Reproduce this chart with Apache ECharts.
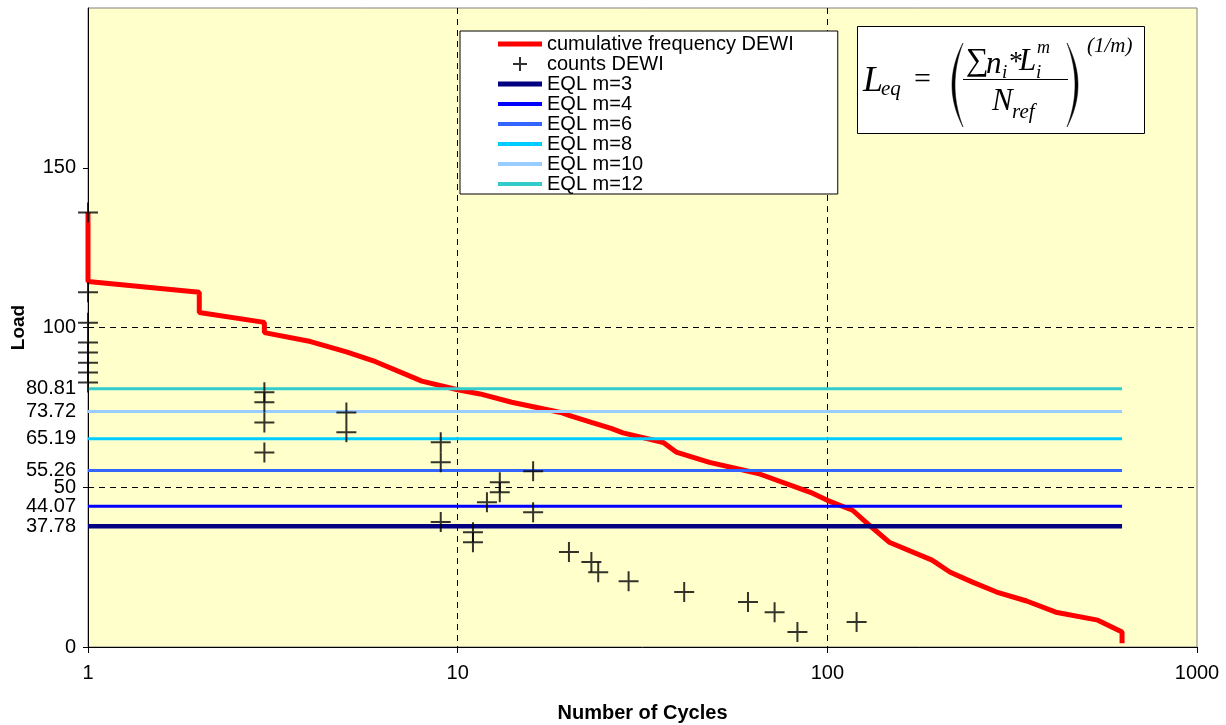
<!DOCTYPE html>
<html>
<head>
<meta charset="utf-8">
<script src="https://cdn.jsdelivr.net/npm/echarts@6/dist/echarts.min.js"></script>
<style>
  html, body { margin: 0; padding: 0; background: #fff; }
  #chart { width: 1226px; height: 725px; }
</style>
</head>
<body>
<div id="chart"></div>
<script>
// cumulative frequency curve (cycles, load)
const cumCycles = [1, 1, 2, 2, 3, 3, 4, 5, 6, 8, 10, 11.5, 14, 19, 20, 23, 26, 28, 36, 39, 48, 65, 90, 100, 117, 130, 147, 192, 215, 247, 287, 346, 415, 539, 627, 627]
const cumLoad = [136, 114.4, 111, 104.7, 101.6, 98.4, 95.6, 92.4, 89.3, 83.2, 80.5, 79.2, 76.6, 73.4, 72.5, 70.3, 68.4, 67, 64, 61, 57.8, 54.3, 48.4, 45.9, 42.8, 38.1, 32.8, 27.2, 23.4, 20.3, 17.2, 14.4, 10.9, 8.4, 4.7, 1.2]

// single counts (cycles, load)
const countCycles = [1, 1, 1, 1, 1, 1, 1, 1, 3, 3, 3, 3, 5, 5, 9, 9, 9, 11, 11, 12, 13, 13, 16, 16, 20, 23, 24, 29, 41, 61, 72, 83, 120]
const countLoad = [136, 111, 101.5, 95.3, 92.2, 89, 85.9, 82.8, 79.7, 76.6, 70.3, 60.9, 73.4, 67.2, 64.1, 57.8, 39.1, 35.9, 32.8, 45.3, 51.6, 48.4, 55, 42.2, 29.7, 26.6, 23.4, 20.6, 17.2, 14.1, 10.9, 4.7, 7.8]

// equivalent loads
const eqlNames = ['EQL m=3', 'EQL m=4', 'EQL m=6', 'EQL m=8', 'EQL m=10', 'EQL m=12']
const eqlValues = [37.78, 44.07, 55.26, 65.19, 73.72, 80.81]
const eqlStart = 1
const eqlEnd = 627

const yLabelValues = [0, 37.78, 44.07, 50, 55.26, 65.19, 73.72, 80.81, 100, 150]
const yTickValues = [0, 50, 100, 150]

const eqlColors = ['#000080', '#0000FF', '#3366FF', '#00CCFF', '#99CCFF', '#33CCCC']
const eqlWidths = [4.5, 3, 3, 3, 3, 3]

const chart = echarts.init(document.getElementById('chart'))

const plusPath = 'path://M10,0L10,20M0,10L20,10'
const thickIcon = 'path://M0,0L44,0L44,5L0,5Z'
const thinIcon = 'path://M0,0L44,0L44,4L0,4Z'

const series = []
series.push({
  name: 'cumulative frequency DEWI',
  type: 'line',
  data: cumCycles.map((c, i) => [c, cumLoad[i]]),
  symbol: 'none',
  lineStyle: {color: '#FF0000', width: 5},
  itemStyle: {color: '#FF0000'},
  z: 2
})
series.push({
  name: 'counts DEWI',
  type: 'scatter',
  data: countCycles.map((c, i) => [c, countLoad[i]]),
  symbol: plusPath,
  symbolSize: 20,
  itemStyle: {color: 'none', borderColor: '#000', borderWidth: 2},
  z: 5
})
eqlNames.forEach((name, i) => {
  series.push({
    name,
    type: 'line',
    data: [[eqlStart, eqlValues[i]], [eqlEnd, eqlValues[i]]],
    symbol: 'none',
    lineStyle: {color: eqlColors[i], width: eqlWidths[i]},
    itemStyle: {color: eqlColors[i]},
    z: 3
  })
})

const legendData = [
  {name: 'cumulative frequency DEWI', icon: thickIcon},
  {name: 'counts DEWI'}
].concat(eqlNames.map((name, i) => ({name, icon: i === 0 ? thickIcon : thinIcon})))

// formula box helpers
const serif = '"Liberation Serif", "DejaVu Serif", serif'
const txt = (s, x, y, size, italic) => ({
  type: 'text', x, y, z: 100,
  style: {text: s, font: (italic ? 'italic ' : '') + size + 'px ' + serif, fill: '#000', align: 'left', verticalAlign: 'middle'}
})
// big bracket drawn as a thin crescent (dir = -1 opening bracket, 1 closing)
const bracket = (x, top, bottom, dir) => {
  const pts = []
  const mid = (top + bottom) / 2
  const n = 24
  for (let k = 0; k <= n; k++) {
    const t = k / n
    const cx = x + dir * 22
    pts.push([(1 - t) * (1 - t) * x + 2 * t * (1 - t) * cx + t * t * x, (1 - t) * (1 - t) * top + 2 * t * (1 - t) * mid + t * t * bottom])
  }
  for (let k = n; k >= 0; k--) {
    const t = k / n
    const cx = x + dir * 16
    pts.push([(1 - t) * (1 - t) * x + 2 * t * (1 - t) * cx + t * t * x, (1 - t) * (1 - t) * top + 2 * t * (1 - t) * mid + t * t * bottom])
  }
  return {type: 'polygon', z: 100, shape: {points: pts}, style: {fill: '#000', stroke: '#000', lineWidth: 0.5}}
}

const formula = [
  {type: 'rect', z: 99, shape: {x: 857.5, y: 26.5, width: 287, height: 107}, style: {fill: '#fff', stroke: '#000', lineWidth: 1}},
  txt('L', 863, 82, 36, true),
  txt('eq', 881, 89, 21, true),
  txt('=', 914, 80, 30, false),
  bracket(963, 43, 127, -1),
  txt('\u2211', 966, 62, 32, false),
  txt('n', 986, 65, 31, true),
  txt('i', 1002, 73, 19, true),
  txt('*', 1009, 63, 28, false),
  txt('L', 1019, 62, 31, true),
  txt('i', 1036, 73, 19, true),
  txt('m', 1037, 48, 18, true),
  {type: 'line', z: 100, shape: {x1: 963, y1: 79.5, x2: 1068, y2: 79.5}, style: {stroke: '#000', lineWidth: 1.2}},
  txt('N', 992, 102, 31, true),
  txt('ref', 1012, 112, 21, true),
  bracket(1067, 43, 127, 1),
  txt('(1/m)', 1087, 46, 21, true)
]

const option = {
  animation: false,
  backgroundColor: '#fff',
  textStyle: {fontFamily: 'Arial, "Liberation Sans", sans-serif'},
  grid: {
    left: 88, right: 29, top: 8, bottom: 78,
    outerBoundsMode: 'none',
    containLabel: false,
    show: true, backgroundColor: '#FFFFCC', borderColor: '#808080', borderWidth: 1
  },
  legend: {
    orient: 'vertical',
    left: 460, top: 31,
    padding: [3, 44, 0, 38],
    itemGap: 0,
    itemWidth: 44,
    itemHeight: 14,
    backgroundColor: '#fff',
    borderColor: '#000',
    borderWidth: 1,
    borderRadius: 0,
    textStyle: {fontSize: 20, color: '#000', fontFamily: 'Arial, "Liberation Sans", sans-serif'},
    data: legendData
  },
  xAxis: {
    type: 'log',
    logBase: 10,
    min: 1,
    max: 1000,
    name: 'Number of Cycles',
    nameLocation: 'middle',
    nameGap: 56,
    nameMoveOverlap: false,
    nameTextStyle: {fontWeight: 'bold', fontSize: 20, color: '#000', verticalAlign: 'top'},
    axisLine: {lineStyle: {color: '#000', width: 1}},
    axisTick: {show: true, length: 6, lineStyle: {color: '#000'}},
    axisLabel: {fontSize: 20, color: '#000', margin: 16, formatter: v => String(v)},
    minorTick: {show: false},
    splitLine: {show: true, showMinLine: false, showMaxLine: false, lineStyle: {color: '#000', type: [6, 5], width: 1}}
  },
  yAxis: {
    type: 'value',
    min: 0,
    max: 200,
    interval: 50,
    name: 'Load',
    nameLocation: 'middle',
    nameGap: 60,
    nameMoveOverlap: false,
    nameTextStyle: {fontWeight: 'bold', fontSize: 19, color: '#000'},
    axisLine: {show: true, lineStyle: {color: '#000', width: 1}},
    axisTick: {show: true, length: 5, customValues: yTickValues, lineStyle: {color: '#000'}},
    axisLabel: {fontSize: 20, color: '#000', margin: 12, customValues: yLabelValues, formatter: v => String(v)},
    splitLine: {show: true, showMinLine: false, showMaxLine: false, lineStyle: {color: '#000', type: [6, 5], width: 1}}
  },
  graphic: formula,
  series
}

chart.setOption(option)
</script>
</body>
</html>
